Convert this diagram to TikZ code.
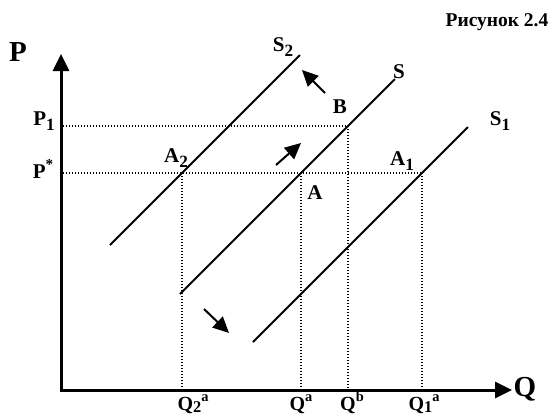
\documentclass[tikz,border=0pt]{standalone}
\usepackage{fontspec}
\setmainfont{Liberation Serif}
\usetikzlibrary{arrows.meta}
\newcommand{\lbsub}[1]{\raisebox{-0.22em}{\fontsize{0.82em}{1em}\selectfont #1}}
\newcommand{\lbsup}[1]{\raisebox{0.42em}{\fontsize{0.72em}{1em}\selectfont #1}}
\newcommand{\lbqsub}[1]{\raisebox{-0.12em}{\fontsize{0.82em}{1em}\selectfont #1}}
\tikzset{
  axisline/.style={line width=3pt, miter limit=10, {Triangle[length=17pt,width=16pt]}-{Triangle[length=17pt,width=16pt]}},
  supply/.style={line width=2pt},
  guide/.style={line width=1.1pt, dash pattern=on 1.1pt off 1.9pt},
  shift arrow/.style={line width=2pt, -{Triangle[length=16pt,width=15pt]}},
  lbl/.style={font=\bfseries\fontsize{21}{23}\selectfont, inner sep=0pt},
  biglbl/.style={font=\bfseries\fontsize{29}{31}\selectfont, inner sep=0pt},
  qlbl/.style={font=\bfseries\fontsize{20}{22}\selectfont, inner sep=0pt, anchor=base},
}
\begin{document}
\begin{tikzpicture}[x=1pt,y=-1pt]
\useasboundingbox (0,0) rectangle (555,416);
% axes
\coordinate (O) at (61,390);
\coordinate (ytop) at (61,54);
\coordinate (xend) at (512,390);
\draw[axisline] (xend) -- (O) -- (ytop);
% supply curves
\coordinate (s2a) at (110,245); \coordinate (s2b) at (300,55);
\coordinate (sa) at (180,294);  \coordinate (sb) at (395,79);
\coordinate (s1a) at (253,342); \coordinate (s1b) at (468,127);
\draw[supply] (s2a) -- (s2b);
\draw[supply] (sa) -- (sb);
\draw[supply] (s1a) -- (s1b);
% points
\coordinate (A2) at (182,173);
\coordinate (A) at (301,173);
\coordinate (B) at (348,126);
\coordinate (A1) at (422,173);
\coordinate (p1) at (63,126);
\coordinate (ps) at (63,173);
\coordinate (q2) at (182,388);
\coordinate (qa) at (301,388);
\coordinate (qb) at (348,388);
\coordinate (q1) at (422,388);
% guides
\draw[guide] (p1) -- (B);
\draw[guide] (ps) -- (A1);
\draw[guide] (A2) -- (q2);
\draw[guide] (A) -- (qa);
\draw[guide] (B) -- (qb);
\draw[guide] (A1) -- (q1);
% shift arrows
\coordinate (nw1) at (325,93); \coordinate (nw2) at (302,70);
\coordinate (ne1) at (276,165); \coordinate (ne2) at (301,143);
\coordinate (se1) at (204,309); \coordinate (se2) at (229,333);
\draw[shift arrow] (nw1) -- (nw2);
\draw[shift arrow] (ne1) -- (ne2);
\draw[shift arrow] (se1) -- (se2);
% labels
\node[biglbl] (Plbl) at (18,52) {P};
\node[biglbl] (Qlbl) at (525,389) {Q};
\node[lbl] (P1lbl) at (44,121) {P\lbsub{1}};
\node[lbl] (Pslbl) at (43,169) {P\lbsup{*}};
\node[lbl] (A2lbl) at (176,158) {A\lbsub{2}};
\node[lbl] (Albl) at (315,193) {A};
\node[lbl] (Blbl) at (340,107) {B};
\node[lbl] (A1lbl) at (402,161) {A\lbsub{1}};
\node[lbl] (S2lbl) at (283,47) {S\lbsub{2}};
\node[lbl] (Slbl) at (399,72) {S};
\node[lbl] (S1lbl) at (500,121) {S\lbsub{1}};
\node[qlbl] (Q2lbl) at (193,410) {Q\lbqsub{2}\lbsup{a}};
\node[qlbl] (Qalbl) at (301,410) {Q\lbsup{a}};
\node[qlbl] (Qblbl) at (352,410) {Q\lbsup{b}};
\node[qlbl] (Q1lbl) at (424,410) {Q\lbqsub{1}\lbsup{a}};
\node[font=\bfseries\fontsize{19.5}{21}\selectfont, inner sep=0pt] (title) at (497,22) {Рисунок 2.4};
\end{tikzpicture}
\end{document}
